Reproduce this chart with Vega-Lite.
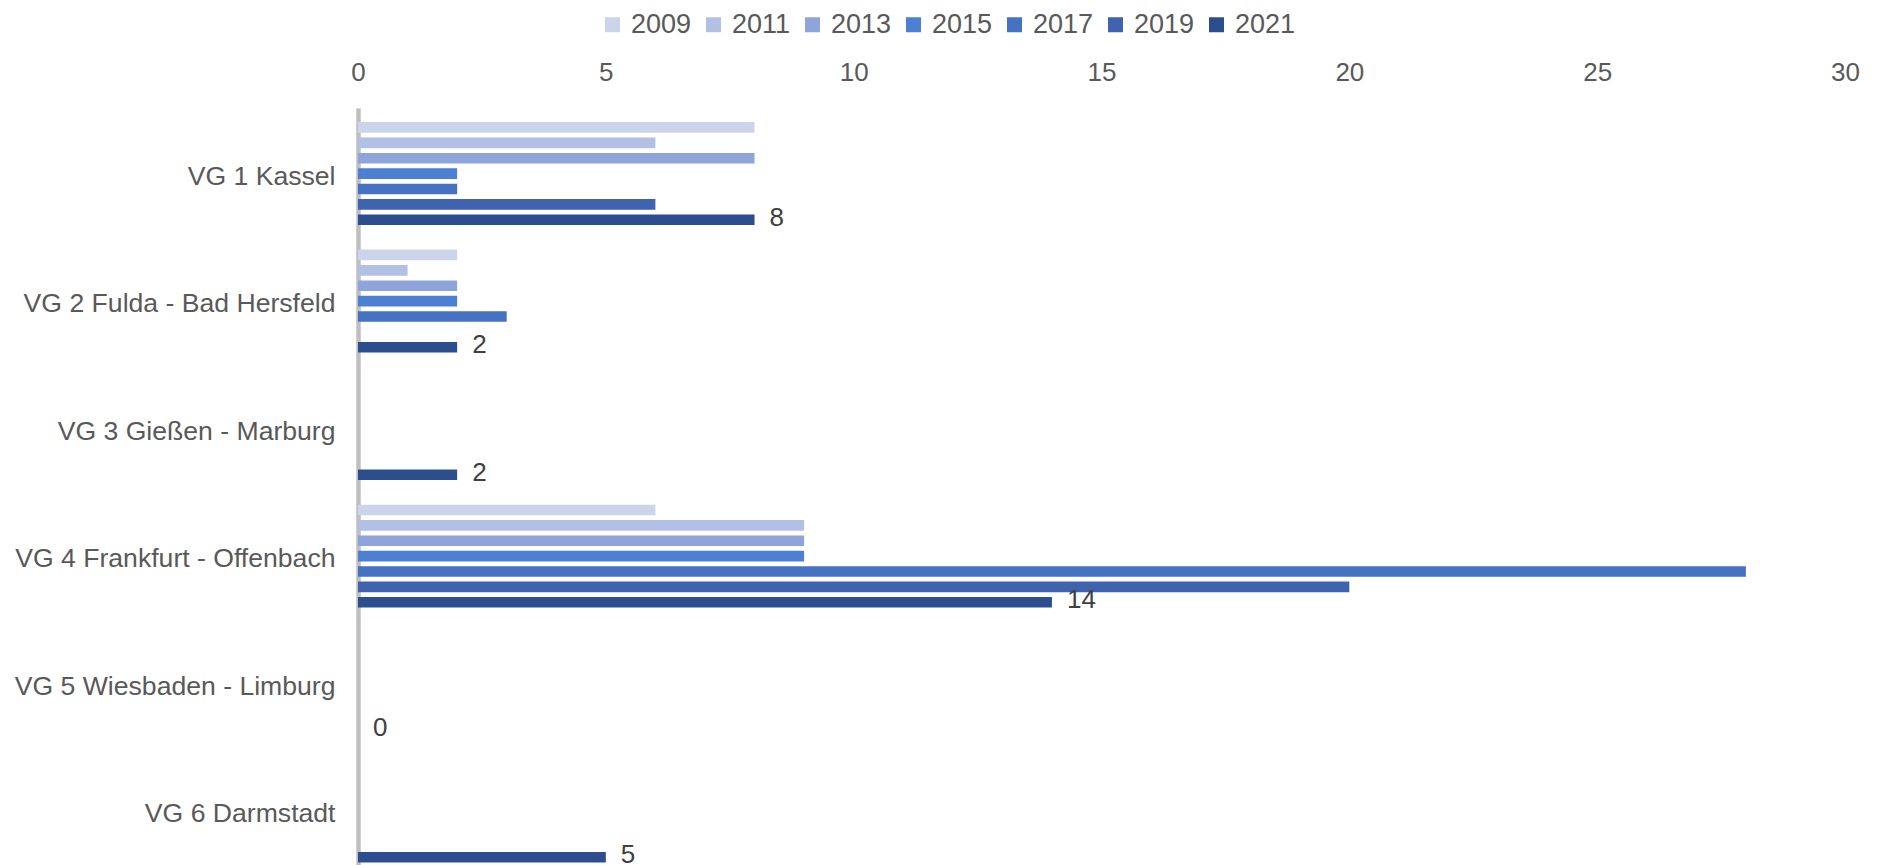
{
  "$schema": "https://vega.github.io/schema/vega-lite/v6.json",
  "width": 1487,
  "height": 757,
  "autosize": {"type": "none"},
  "padding": {"left": 358, "top": 108, "right": 32, "bottom": 0},
  "background": "white",
  "config": {"view": {"stroke": null}, "font": "Liberation Sans"},
  "data": {
    "values": [
      {"region": "VG 1 Kassel", "year": "2009", "value": 8},
      {"region": "VG 1 Kassel", "year": "2011", "value": 6},
      {"region": "VG 1 Kassel", "year": "2013", "value": 8},
      {"region": "VG 1 Kassel", "year": "2015", "value": 2},
      {"region": "VG 1 Kassel", "year": "2017", "value": 2},
      {"region": "VG 1 Kassel", "year": "2019", "value": 6},
      {"region": "VG 1 Kassel", "year": "2021", "value": 8},
      {"region": "VG 2 Fulda - Bad Hersfeld", "year": "2009", "value": 2},
      {"region": "VG 2 Fulda - Bad Hersfeld", "year": "2011", "value": 1},
      {"region": "VG 2 Fulda - Bad Hersfeld", "year": "2013", "value": 2},
      {"region": "VG 2 Fulda - Bad Hersfeld", "year": "2015", "value": 2},
      {"region": "VG 2 Fulda - Bad Hersfeld", "year": "2017", "value": 3},
      {"region": "VG 2 Fulda - Bad Hersfeld", "year": "2021", "value": 2},
      {"region": "VG 3 Gießen - Marburg", "year": "2021", "value": 2},
      {"region": "VG 4 Frankfurt - Offenbach", "year": "2009", "value": 6},
      {"region": "VG 4 Frankfurt - Offenbach", "year": "2011", "value": 9},
      {"region": "VG 4 Frankfurt - Offenbach", "year": "2013", "value": 9},
      {"region": "VG 4 Frankfurt - Offenbach", "year": "2015", "value": 9},
      {"region": "VG 4 Frankfurt - Offenbach", "year": "2017", "value": 28},
      {"region": "VG 4 Frankfurt - Offenbach", "year": "2019", "value": 20},
      {"region": "VG 4 Frankfurt - Offenbach", "year": "2021", "value": 14},
      {"region": "VG 5 Wiesbaden - Limburg", "year": "2021", "value": 0},
      {"region": "VG 6 Darmstadt", "year": "2021", "value": 5}
    ]
  },
  "encoding": {
    "y": {
      "field": "region",
      "type": "nominal",
      "sort": ["VG 1 Kassel", "VG 2 Fulda - Bad Hersfeld", "VG 3 Gießen - Marburg", "VG 4 Frankfurt - Offenbach", "VG 5 Wiesbaden - Limburg", "VG 6 Darmstadt"],
      "scale": {"paddingInner": 0.155, "paddingOuter": 0.046, "align": 1},
      "axis": {
        "title": null,
        "orient": "left",
        "domain": true,
        "domainColor": "#bfbfbf",
        "domainWidth": 4.5,
        "ticks": false,
        "tickSize": 0,
        "grid": false,
        "labelFontSize": 26.6,
        "labelColor": "#595959",
        "labelPadding": 23,
        "labelOffset": 3,
        "labelLimit": 400
      }
    },
    "yOffset": {
      "field": "year",
      "type": "nominal",
      "scale": {"domain": ["2009", "2011", "2013", "2015", "2017", "2019", "2021"], "paddingInner": 0.31, "paddingOuter": 0.155}
    },
    "x": {
      "field": "value",
      "type": "quantitative",
      "scale": {"domain": [0, 30], "nice": false},
      "axis": {
        "title": null,
        "orient": "top",
        "domain": false,
        "ticks": false,
        "tickSize": 0,
        "grid": false,
        "values": [0, 5, 10, 15, 20, 25, 30],
        "labelFlush": false,
        "labelFontSize": 26,
        "labelColor": "#595959",
        "labelBaseline": "middle",
        "labelPadding": 36
      }
    }
  },
  "layer": [
    {
      "mark": {"type": "bar"},
      "encoding": {
        "color": {
          "field": "year",
          "type": "nominal",
          "scale": {
            "domain": ["2009", "2011", "2013", "2015", "2017", "2019", "2021"],
            "range": ["#ccd4ec", "#b2c0e5", "#8ea4da", "#4d7fd3", "#4672c3", "#3f63af", "#2d4e8e"]
          },
          "legend": {
            "title": null,
            "orient": "none",
            "direction": "horizontal",
            "columns": 7,
            "legendX": 241,
            "legendY": -97,
            "padding": 0,
            "symbolType": "square",
            "symbolSize": 225,
            "symbolStrokeWidth": 0,
            "labelFontSize": 27,
            "labelColor": "#595959",
            "labelOffset": 5,
            "columnPadding": 8
          }
        }
      }
    },
    {
      "transform": [{"filter": "datum.year === '2021'"}],
      "mark": {"type": "text", "align": "left", "baseline": "middle", "dx": 15, "dy": -2, "fontSize": 26, "color": "#404040"},
      "encoding": {"text": {"field": "value", "type": "quantitative"}}
    }
  ]
}
